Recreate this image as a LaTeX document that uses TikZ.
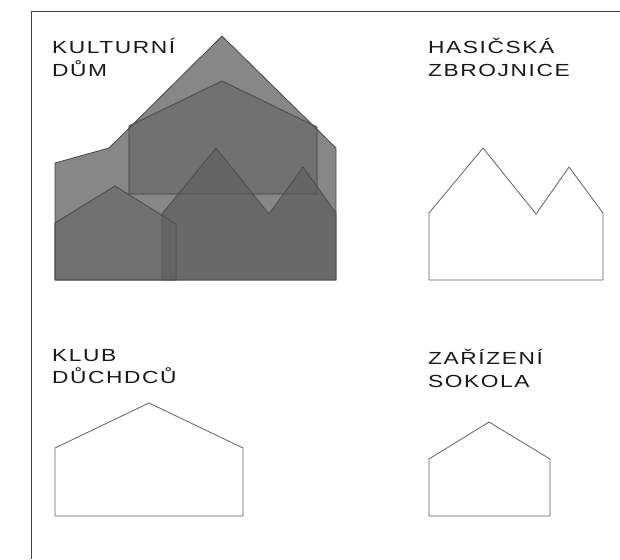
\documentclass[tikz,border=0pt]{standalone}
\usepackage{fontspec}
\setmainfont[LetterSpace=9,FakeStretch=1.3]{Liberation Sans}
\begin{document}
\begin{tikzpicture}[x=1pt,y=-1pt,
  house/.style={draw=black!62,line width=0.8pt,line join=round},
  base/.style={house,draw=black!72,fill=black!47},
  overlay/.style={house,draw=black!65,fill=black,fill opacity=0.16},
  top/.style={house,draw=black!70,fill=black!62,fill opacity=0.8},
  ghost/.style={draw=black!70,line width=0.8pt,line join=round,draw opacity=0.7},
  lbl/.style={anchor=north west,inner sep=0pt,align=left,font=\fontsize{17.5}{22.5}\selectfont,text=black!90}]
\useasboundingbox (0,0) rectangle (620,559);
\draw[black!75,line width=1.1pt] (31.5,559) -- (31.5,11.5) -- (620,11.5);
\filldraw[base] (55,163) -- (109,148) -- (222,36) -- (336,148) -- (336,280) -- (55,280) -- cycle;
\filldraw[overlay] (129,126) -- (222,81) -- (317,127) -- (317,194) -- (129,194) -- cycle;
\filldraw[overlay] (55,223) -- (115,186) -- (176,224) -- (176,280) -- (55,280) -- cycle;
\filldraw[top] (162,214) -- (216,148) -- (269,214) -- (303,167) -- (336,213) -- (336,280) -- (162,280) -- cycle;
\draw[ghost] (129,126) -- (222,81) -- (317,127) -- (317,194) -- (129,194) -- cycle;
\draw[ghost] (55,223) -- (115,186) -- (176,224) -- (176,280) -- (55,280) -- cycle;
\draw[house] (429,213) -- (483,148) -- (536,214) -- (569,167) -- (603,213) -- (603,280) -- (429,280) -- cycle;
\draw[house] (55,448) -- (149,403) -- (243,448) -- (243,516) -- (55,516) -- cycle;
\draw[house] (429,459) -- (489,422) -- (550,459) -- (550,516) -- (429,516) -- cycle;
\node[lbl] (kd) at (52,38.5) {KULTURNÍ\\DŮM};
\node[lbl] (hz) at (428,38.5) {HASIČSKÁ\\ZBROJNICE};
\node[lbl] (kl) at (52,349) {KLUB\\DŮCHDCŮ};
\node[lbl] (zs) at (428,349) {ZAŘÍZENÍ\\SOKOLA};
\end{tikzpicture}
\end{document}
